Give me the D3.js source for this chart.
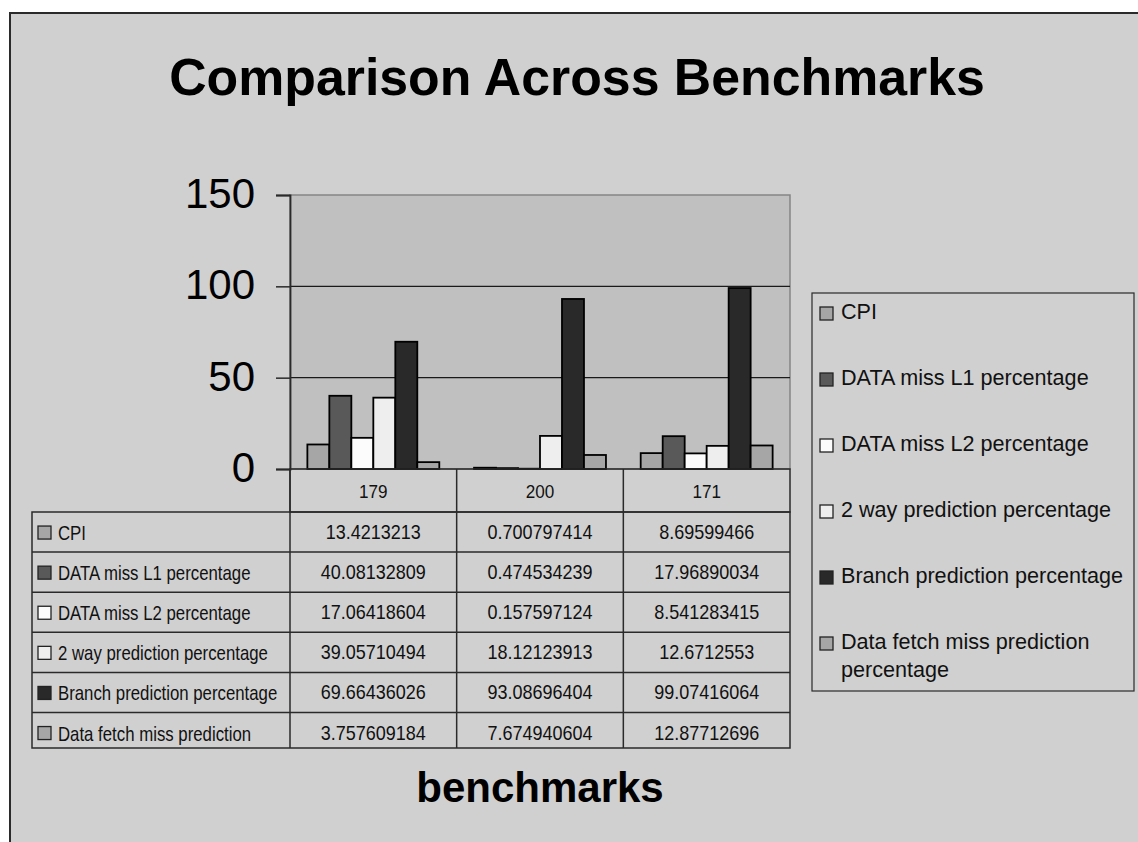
<!DOCTYPE html>
<html>
<head>
<meta charset="utf-8">
<script src="https://cdn.jsdelivr.net/npm/d3@7"></script>
<style>
  html, body { margin: 0; padding: 0; background: #ffffff; }
  svg { display: block; }
</style>
</head>
<body>
<svg id="chart" width="1138" height="842"></svg>
<script>
// Benchmarks on the category axis
const benchmarks = ["179", "200", "171"];

// Series names (legend) and the shorter labels shown in the data table
const seriesNames = [
  "CPI",
  "DATA miss L1 percentage",
  "DATA miss L2 percentage",
  "2 way prediction percentage",
  "Branch prediction percentage",
  "Data fetch miss prediction percentage"
];
const tableLabels = [
  "CPI",
  "DATA miss L1 percentage",
  "DATA miss L2 percentage",
  "2 way prediction percentage",
  "Branch prediction percentage",
  "Data fetch miss prediction"
];

// One value per benchmark, for each series
const cpi           = [13.4213213, 0.700797414, 8.69599466];
const dataMissL1    = [40.08132809, 0.474534239, 17.96890034];
const dataMissL2    = [17.06418604, 0.157597124, 8.541283415];
const twoWayPred    = [39.05710494, 18.12123913, 12.6712553];
const branchPred    = [69.66436026, 93.08696404, 99.07416064];
const fetchMissPred = [3.757609184, 7.674940604, 12.87712696];

const seriesValues = [cpi, dataMissL1, dataMissL2, twoWayPred, branchPred, fetchMissPred];
const seriesFills = ["#a6a6a6", "#595959", "#fcfcfc", "#eeeeee", "#292929", "#a6a6a6"];

const yTicks = [0, 50, 100, 150];

const svg = d3.select("#chart");
const lineColor = "#2a2a2a";
const sans = "'Liberation Sans', Arial, sans-serif";

// Chart background with its frame (left and top edges visible)
svg.append("rect")
  .attr("x", 10).attr("y", 13)
  .attr("width", 1140).attr("height", 840)
  .attr("fill", "#d0d0d0")
  .attr("stroke", lineColor).attr("stroke-width", 2);

// Title
svg.append("text")
  .attr("x", 577).attr("y", 95)
  .attr("text-anchor", "middle")
  .attr("font-family", sans)
  .attr("font-weight", "bold")
  .attr("font-size", 51.8)
  .attr("fill", "#000")
  .text("Comparison Across Benchmarks");

// Plot geometry
const plot = { left: 290, right: 790, top: 195, bottom: 469 };

const x0 = d3.scaleBand().domain(benchmarks).range([plot.left, plot.right]).padding(0);
const x1 = d3.scaleBand().domain(d3.range(seriesNames.length))
  .range([0, x0.bandwidth()]).paddingInner(0).paddingOuter(0.79);
const y = d3.scaleLinear().domain([0, 150]).range([plot.bottom, plot.top]);

// Plot area fill
svg.append("rect")
  .attr("x", plot.left).attr("y", plot.top)
  .attr("width", plot.right - plot.left).attr("height", plot.bottom - plot.top)
  .attr("fill", "#c0c0c0")
  .attr("stroke", "#858585").attr("stroke-width", 1.5);

// Horizontal gridlines
svg.append("g")
  .selectAll("line")
  .data(yTicks.filter(t => t > 0 && t < 150))
  .join("line")
  .attr("x1", plot.left).attr("x2", plot.right)
  .attr("y1", d => y(d)).attr("y2", d => y(d))
  .attr("stroke", "#1a1a1a").attr("stroke-width", 1.2);

// Bars
const groups = svg.append("g")
  .selectAll("g")
  .data(benchmarks)
  .join("g")
  .attr("transform", d => `translate(${x0(d)},0)`);

groups.selectAll("rect")
  .data((b, bi) => seriesValues.map((vals, si) => ({ si, v: vals[bi] })))
  .join("rect")
  .attr("x", d => x1(d.si))
  .attr("width", x1.bandwidth())
  .attr("y", d => y(d.v))
  .attr("height", d => y(0) - y(d.v))
  .attr("fill", d => seriesFills[d.si])
  .attr("stroke", "#000").attr("stroke-width", 1.8);

// Y axis
const yAxis = d3.axisLeft(y).tickValues(yTicks).tickSize(14).tickPadding(21);
const yg = svg.append("g")
  .attr("transform", `translate(${plot.left},0)`)
  .call(yAxis);
yg.select(".domain").attr("stroke", lineColor).attr("stroke-width", 1.8);
yg.selectAll(".tick line").attr("stroke", lineColor).attr("stroke-width", 1.5);
yg.selectAll(".tick text")
  .attr("font-family", sans)
  .attr("font-size", 42)
  .attr("fill", "#000")
  .attr("dy", "0.3em");

// Data table under the plot (condensed text: regular sans squeezed horizontally)
const table = { left: 32, headerTop: plot.bottom, headerBottom: 512, bottom: 748 };
const rowH = 40.1;
const rowTop = i => table.headerBottom + i * rowH;
const labelSqueeze = 0.84;
const numberSqueeze = 0.9;
const tg = svg.append("g");

// Header row with benchmark names
tg.append("rect")
  .attr("x", plot.left).attr("y", table.headerTop)
  .attr("width", plot.right - plot.left).attr("height", table.headerBottom - table.headerTop)
  .attr("fill", "none").attr("stroke", lineColor).attr("stroke-width", 1.5);
tg.selectAll("text.head")
  .data(benchmarks)
  .join("text")
  .attr("class", "head")
  .attr("transform", d =>
    `translate(${x0(d) + x0.bandwidth() / 2},${(table.headerTop + table.headerBottom) / 2 + 7}) scale(${numberSqueeze},1)`)
  .attr("text-anchor", "middle")
  .attr("font-family", sans)
  .attr("font-size", 19)
  .attr("fill", "#111")
  .text(d => d);

// Body outline
tg.append("rect")
  .attr("x", table.left).attr("y", table.headerBottom)
  .attr("width", plot.right - table.left).attr("height", table.bottom - table.headerBottom)
  .attr("fill", "none").attr("stroke", lineColor).attr("stroke-width", 1.5);

// Row separators
tg.selectAll("line.row")
  .data(d3.range(1, seriesNames.length))
  .join("line")
  .attr("class", "row")
  .attr("x1", table.left).attr("x2", plot.right)
  .attr("y1", i => rowTop(i)).attr("y2", i => rowTop(i))
  .attr("stroke", lineColor).attr("stroke-width", 1.5);

// Column separators
tg.selectAll("line.col")
  .data(benchmarks)
  .join("line")
  .attr("class", "col")
  .attr("x1", d => x0(d)).attr("x2", d => x0(d))
  .attr("y1", table.headerTop).attr("y2", table.bottom)
  .attr("stroke", lineColor).attr("stroke-width", 1.5);

// Row labels with swatches
const rows = tg.selectAll("g.rowlab")
  .data(tableLabels)
  .join("g")
  .attr("class", "rowlab")
  .attr("transform", (d, i) => `translate(0,${rowTop(i) + rowH / 2})`);
rows.append("rect")
  .attr("x", 38).attr("y", -6).attr("width", 13).attr("height", 13)
  .attr("fill", (d, i) => seriesFills[i])
  .attr("stroke", "#222").attr("stroke-width", 1.3);
rows.append("text")
  .attr("transform", `translate(58,8) scale(${labelSqueeze},1)`)
  .attr("font-family", sans)
  .attr("font-size", 20)
  .attr("fill", "#111")
  .text(d => d);

// Cell values
seriesValues.forEach((vals, si) => {
  tg.selectAll(`text.val${si}`)
    .data(vals)
    .join("text")
    .attr("class", `val${si}`)
    .attr("transform", (v, bi) =>
      `translate(${x0(benchmarks[bi]) + x0.bandwidth() / 2},${rowTop(si) + rowH / 2 + 7}) scale(${numberSqueeze},1)`)
    .attr("text-anchor", "middle")
    .attr("font-family", sans)
    .attr("font-size", 20)
    .attr("fill", "#111")
    .text(v => String(v));
});

// X axis title
svg.append("text")
  .attr("x", 540).attr("y", 802)
  .attr("text-anchor", "middle")
  .attr("font-family", sans)
  .attr("font-weight", "bold")
  .attr("font-size", 42)
  .attr("fill", "#000")
  .text("benchmarks");

// Legend
const legend = svg.append("g");
legend.append("rect")
  .attr("x", 812).attr("y", 293)
  .attr("width", 322).attr("height", 398)
  .attr("fill", "#d0d0d0")
  .attr("stroke", lineColor).attr("stroke-width", 1.2);

const legendStep = 66;
const items = legend.selectAll("g.item")
  .data(seriesNames)
  .join("g")
  .attr("class", "item")
  .attr("transform", (d, i) => `translate(0,${319 + i * legendStep})`);
items.append("rect")
  .attr("x", 820).attr("y", -12).attr("width", 13).attr("height", 13)
  .attr("fill", (d, i) => seriesFills[i])
  .attr("stroke", "#222").attr("stroke-width", 1.3);
items.append("text")
  .attr("font-family", sans)
  .attr("font-size", 21.6)
  .attr("fill", "#111")
  .each(function(d) {
    const t = d3.select(this);
    // Longest name wraps onto a second line
    const lines = d.length > 32 ? [d.replace(/ percentage$/, ""), "percentage"] : [d];
    lines.forEach((ln, k) => {
      t.append("tspan").attr("x", 841).attr("y", k * 28).text(ln);
    });
  });
</script>
</body>
</html>
